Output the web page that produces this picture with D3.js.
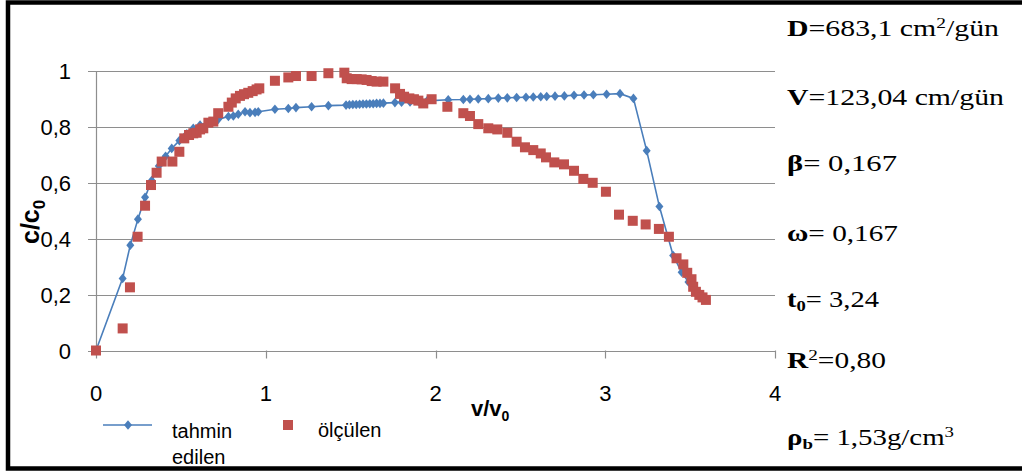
<!DOCTYPE html>
<html>
<head>
<meta charset="utf-8">
<script src="https://cdn.jsdelivr.net/npm/d3@7"></script>
<style>
    body { margin: 0; background: #fff; }
    svg { display: block; }
</style>
</head>
<body>
<div id="chart"></div>
<script>
// tahmin edilen (model), x = v/v0, y = c/c0
var tahminX = [0, 0.157, 0.202, 0.247, 0.289, 0.328, 0.37, 0.41, 0.446, 0.491, 0.535, 0.573, 0.613, 0.672, 0.72, 0.78,
    0.809, 0.838, 0.878, 0.907, 0.937, 0.956, 1.054, 1.133, 1.178, 1.27, 1.369, 1.473, 1.493, 1.513, 1.533, 1.553,
    1.573, 1.593, 1.613, 1.633, 1.653, 1.673, 1.693, 1.761, 1.80, 1.85, 1.90, 1.95, 2.075, 2.164, 2.203, 2.252,
    2.311, 2.37, 2.423, 2.478, 2.533, 2.576, 2.62, 2.655, 2.704, 2.759, 2.816, 2.875, 2.93, 3.008, 3.087, 3.166,
    3.244, 3.319, 3.40, 3.45, 3.49, 3.53, 3.56];
var tahminY = [0, 0.258, 0.377, 0.47, 0.548, 0.608, 0.66, 0.695, 0.723, 0.751, 0.775, 0.795, 0.807, 0.819, 0.827, 0.837,
    0.839, 0.845, 0.854, 0.851, 0.852, 0.854, 0.863, 0.866, 0.869, 0.872, 0.876, 0.878, 0.879, 0.880, 0.880, 0.881,
    0.882, 0.882, 0.883, 0.883, 0.884, 0.884, 0.885, 0.887, 0.888, 0.889, 0.891, 0.893, 0.897, 0.898, 0.899, 0.900,
    0.901, 0.903, 0.904, 0.905, 0.906, 0.907, 0.908, 0.909, 0.910, 0.911, 0.913, 0.914, 0.915, 0.917, 0.919, 0.902,
    0.715, 0.515, 0.34, 0.28, 0.245, 0.21, 0.195];

// ölçülen (measured)
var olculenX = [0, 0.157, 0.2, 0.245, 0.289, 0.324, 0.357, 0.387, 0.45, 0.491, 0.52, 0.548, 0.573, 0.593, 0.613, 0.632,
    0.662, 0.691, 0.72, 0.78, 0.8, 0.823, 0.848, 0.872, 0.897, 0.923, 0.946, 0.962, 1.054, 1.133, 1.178, 1.27, 1.369,
    1.463, 1.477, 1.506, 1.536, 1.565, 1.594, 1.624, 1.653, 1.693, 1.762, 1.791, 1.815, 1.846, 1.873, 1.899, 1.928,
    1.977, 2.07, 2.164, 2.203, 2.252, 2.311, 2.364, 2.423, 2.478, 2.527, 2.576, 2.62, 2.651, 2.7, 2.757, 2.816, 2.871,
    2.926, 3.004, 3.081, 3.162, 3.238, 3.316, 3.375, 3.42, 3.46, 3.483, 3.508, 3.518, 3.534, 3.554, 3.573, 3.593];
var olculenY = [0, 0.079, 0.226, 0.407, 0.518, 0.592, 0.636, 0.676, 0.676, 0.711, 0.759, 0.771, 0.777, 0.779, 0.791, 0.795,
    0.815, 0.819, 0.849, 0.872, 0.887, 0.902, 0.911, 0.917, 0.922, 0.928, 0.934, 0.938, 0.965, 0.977, 0.982, 0.982, 0.992,
    0.994, 0.974, 0.971, 0.971, 0.970, 0.968, 0.964, 0.962, 0.962, 0.938, 0.918, 0.908, 0.902, 0.899, 0.894, 0.884,
    0.899, 0.872, 0.849, 0.839, 0.81, 0.795, 0.791, 0.779, 0.747, 0.727, 0.717, 0.705, 0.691, 0.673, 0.666, 0.643, 0.614,
    0.6, 0.568, 0.486, 0.464, 0.451, 0.435, 0.407, 0.33, 0.308, 0.278, 0.255, 0.228, 0.21, 0.199, 0.19, 0.181];

var xTicks = [0, 1, 2, 3, 4];
var yTicks = [0, 0.2, 0.4, 0.6, 0.8, 1];

// parameter text on the right: [text, style]
var paramLines = [
    { parts: [["D", "b"], ["=683,1 cm", ""], ["2", "sup"], ["/gün", ""]], width: 212 },
    { parts: [["V", "b"], ["=123,04 cm/gün", ""]], width: 217 },
    { parts: [["β", "b"], ["=  0,167", ""]], width: 110 },
    { parts: [["ω", "b"], ["= 0,167", ""]], width: 111 },
    { parts: [["t", "b"], ["0", "bsub"], ["= 3,24", ""]], width: 92 },
    { parts: [["R", "b"], ["2", "sup"], ["=0,80", ""]], width: 99 },
    { parts: [["ρ", "b"], ["b", "bsub"], ["=  1,53g/cm", ""], ["3", "sup"]], width: 167 }
];
var paramBaselines = [36, 105, 171, 241, 307, 368, 445];

var blue = "#4a7ebb";
var red = "#c0504d";
var gridColor = "#8e8e8e";

var W = 1022, H = 473;

var svg = d3.select("#chart")
    .append("svg")
    .attr("width", W)
    .attr("height", H);

// outer frame (left, top, bottom; right edge cut off)
svg.append("rect").attr("x", 0).attr("y", 0).attr("width", W).attr("height", H).attr("fill", "#fff");
svg.append("path")
    .attr("d", "M" + W + ",2.5 H8 V468.5 H" + W)
    .attr("fill", "none")
    .attr("stroke", "#000")
    .attr("stroke-width", 4.5);

var x = d3.scaleLinear().domain([0, 4]).range([96, 775]);
var y = d3.scaleLinear().domain([0, 1]).range([350.5, 71]);

var fmt = function (d) { return String(d).replace(".", ","); };
var sans = "'Liberation Sans', Arial, sans-serif";

// horizontal grid + left ticks
svg.append("g")
    .selectAll("line")
    .data(yTicks)
    .enter()
    .append("line")
    .attr("x1", 88)
    .attr("x2", x(4))
    .attr("y1", function (d) { return Math.round(y(d)) + 0.5; })
    .attr("y2", function (d) { return Math.round(y(d)) + 0.5; })
    .attr("stroke", gridColor)
    .attr("stroke-width", 1.2);

// vertical axis line
svg.append("line")
    .attr("x1", x(0) + 0.5).attr("x2", x(0) + 0.5)
    .attr("y1", y(1)).attr("y2", y(0))
    .attr("stroke", gridColor)
    .attr("stroke-width", 1.2);

// x ticks (downward)
svg.append("g")
    .selectAll("line")
    .data(xTicks)
    .enter()
    .append("line")
    .attr("x1", function (d) { return Math.round(x(d)) + 0.5; })
    .attr("x2", function (d) { return Math.round(x(d)) + 0.5; })
    .attr("y1", y(0))
    .attr("y2", y(0) + 8)
    .attr("stroke", gridColor)
    .attr("stroke-width", 1.2);

// tick labels
svg.append("g")
    .selectAll("text")
    .data(yTicks)
    .enter()
    .append("text")
    .attr("x", 71)
    .attr("y", function (d) { return y(d) + 8; })
    .attr("text-anchor", "end")
    .style("font-family", sans)
    .style("font-size", "22px")
    .attr("fill", "#000")
    .text(fmt);

svg.append("g")
    .selectAll("text")
    .data(xTicks)
    .enter()
    .append("text")
    .attr("x", function (d) { return x(d); })
    .attr("y", 401)
    .attr("text-anchor", "middle")
    .style("font-family", sans)
    .style("font-size", "22px")
    .attr("fill", "#000")
    .text(fmt);

// axis titles
var xt = svg.append("text")
    .attr("x", 471)
    .attr("y", 416)
    .style("font-family", sans)
    .style("font-size", "22px")
    .style("font-weight", "bold");
xt.append("tspan").text("v/v");
xt.append("tspan").attr("dy", 5).style("font-size", "14px").text("0");

var yt = svg.append("text")
    .attr("transform", "translate(39,244) rotate(-90)")
    .style("font-family", sans)
    .style("font-size", "25px")
    .style("font-weight", "bold");
yt.append("tspan").text("c/c");
yt.append("tspan").attr("dy", 6).style("font-size", "17px").text("0");

// model line + diamonds
var tahmin = tahminX.map(function (d, i) { return [d, tahminY[i]]; });
var olculen = olculenX.map(function (d, i) { return [d, olculenY[i]]; });

svg.append("path")
    .datum(tahmin)
    .attr("fill", "none")
    .attr("stroke", blue)
    .attr("stroke-width", 1.6)
    .attr("d", d3.line().x(function (d) { return x(d[0]); }).y(function (d) { return y(d[1]); }));

var diamond = "M0,-4.8 L4,0 L0,4.8 L-4,0 Z";

svg.append("g")
    .selectAll("path")
    .data(tahmin)
    .enter()
    .append("path")
    .attr("d", diamond)
    .attr("transform", function (d) { return "translate(" + x(d[0]) + "," + y(d[1]) + ")"; })
    .attr("fill", blue);

// measured squares
svg.append("g")
    .selectAll("rect")
    .data(olculen)
    .enter()
    .append("rect")
    .attr("x", function (d) { return x(d[0]) - 5; })
    .attr("y", function (d) { return y(d[1]) - 5; })
    .attr("width", 10)
    .attr("height", 10)
    .attr("fill", red);

// legend
var lg = svg.append("g").style("font-family", sans).style("font-size", "20px");
lg.append("line").attr("x1", 103).attr("x2", 152).attr("y1", 425).attr("y2", 425)
    .attr("stroke", blue).attr("stroke-width", 1.6);
lg.append("path").attr("d", diamond).attr("transform", "translate(128,425)").attr("fill", blue);
lg.append("text").attr("x", 172).attr("y", 438).text("tahmin");
lg.append("text").attr("x", 172).attr("y", 464).text("edilen");
lg.append("rect").attr("x", 283).attr("y", 420).attr("width", 10).attr("height", 10).attr("fill", red);
lg.append("text").attr("x", 318).attr("y", 437).text("ölçülen");

// parameters on the right
var pg = svg.append("g")
    .style("font-family", "'Liberation Serif', 'Times New Roman', serif")
    .style("font-size", "23px");

paramLines.forEach(function (line, i) {
    var t = pg.append("text")
        .attr("x", 787)
        .attr("y", paramBaselines[i])
        .attr("textLength", line.width)
        .attr("lengthAdjust", "spacingAndGlyphs");
    line.parts.forEach(function (p, j) {
        var ts = t.append("tspan").text(p[0]);
        var prev = j > 0 ? line.parts[j - 1][1] : "";
        if (p[1] === "b") {
            ts.style("font-weight", "bold");
        } else if (p[1] === "bsub") {
            ts.style("font-weight", "bold").style("font-size", "15px").attr("dy", 4);
        } else if (p[1] === "sup") {
            ts.style("font-size", "15px").attr("dy", -8);
        } else if (prev === "sup") {
            ts.attr("dy", 8);
        } else if (prev === "bsub") {
            ts.attr("dy", -4);
        }
    });
});
</script>
</body>
</html>
